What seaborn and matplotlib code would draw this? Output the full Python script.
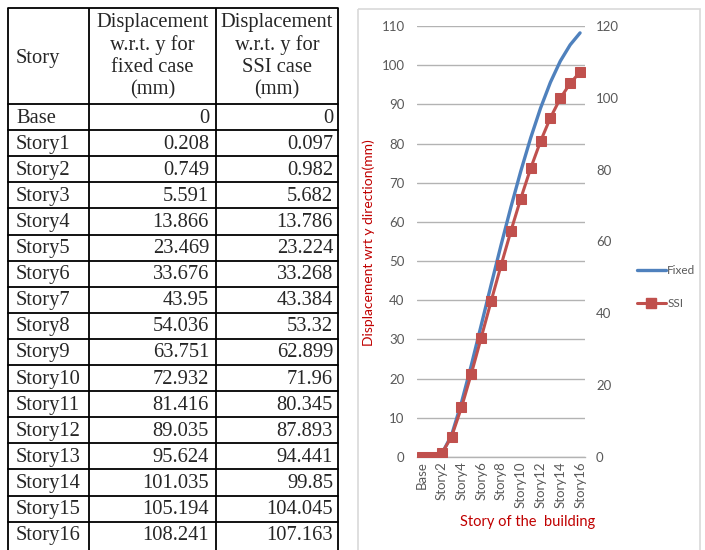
import matplotlib
matplotlib.use("Agg")
import matplotlib.pyplot as plt
import seaborn as sns
import pandas as pd
from matplotlib.lines import Line2D
from matplotlib.patches import Rectangle

# ---- data ----
stories = ["Base", "Story1", "Story2", "Story3", "Story4", "Story5", "Story6", "Story7",
           "Story8", "Story9", "Story10", "Story11", "Story12", "Story13", "Story14",
           "Story15", "Story16"]
fixed_disp = [0, 0.208, 0.749, 5.591, 13.866, 23.469, 33.676, 43.95, 54.036, 63.751,
              72.932, 81.416, 89.035, 95.624, 101.035, 105.194, 108.241]
ssi_disp = [0, 0.097, 0.982, 5.682, 13.786, 23.224, 33.268, 43.384, 53.32, 62.899,
            71.96, 80.345, 87.893, 94.441, 99.85, 104.045, 107.163]
fixed_txt = ["0", "0.208", "0.749", "5.591", "13.866", "23.469", "33.676", "43.95",
             "54.036", "63.751", "72.932", "81.416", "89.035", "95.624", "101.035",
             "105.194", "108.241"]
ssi_txt = ["0", "0.097", "0.982", "5.682", "13.786", "23.224", "33.268", "43.384",
           "53.32", "62.899", "71.96", "80.345", "87.893", "94.441", "99.85",
           "104.045", "107.163"]
header_story = "Story"
header_fixed = ["Displacement", "w.r.t. y for", "fixed case", "(mm)"]
header_ssi = ["Displacement", "w.r.t. y for", "SSI case", "(mm)"]
left_ticks = list(range(0, 111, 10))
right_ticks = list(range(0, 121, 20))

W, H = 705, 550
sns.set_theme(style="white")
plt.rcParams["font.family"] = ["Lato", "DejaVu Sans"]

fig = plt.figure(figsize=(W / 100, H / 100), dpi=100)

# ---- overlay axes in pixel coordinates for table and frame ----
bg = fig.add_axes([0, 0, 1, 1], zorder=0)
bg.set_xlim(0, W)
bg.set_ylim(H, 0)
bg.axis("off")

serif = ["Liberation Serif", "DejaVu Serif"]
col_x = [8, 89, 216, 338]
top = 8
hdr_bot = 104
row_h = 26.1
n = len(stories)
bottom = hdr_bot + n * row_h
lw = 1.3
for x in col_x:
    bg.plot([x, x], [top, H + 5], color="black", lw=lw, solid_capstyle="butt")
bg.plot([col_x[0], col_x[-1]], [top, top], color="black", lw=lw)
bg.plot([col_x[0], col_x[-1]], [hdr_bot, hdr_bot], color="black", lw=lw)
for i in range(1, n):
    y = hdr_bot + i * row_h
    bg.plot([col_x[0], col_x[-1]], [y, y], color="black", lw=lw)

fs = 14.8
bg.text(16, 58, header_story, fontsize=fs, family=serif, ha="left", va="center")
hdr_y = [22, 45, 67, 90]
for j, (a, b) in enumerate(zip(header_fixed, header_ssi)):
    bg.text((col_x[1] + col_x[2]) / 2, hdr_y[j], a, fontsize=fs, family=serif, ha="center", va="center")
    bg.text((col_x[2] + col_x[3]) / 2, hdr_y[j], b, fontsize=fs, family=serif, ha="center", va="center")
for i, s in enumerate(stories):
    yc = hdr_bot + (i + 0.5) * row_h + 1
    bg.text(16, yc, s, fontsize=fs, family=serif, ha="left", va="center")
    bg.text(col_x[2] - 7, yc, fixed_txt[i], fontsize=fs, family=serif, ha="right", va="center")
    bg.text(col_x[3] - 5, yc, ssi_txt[i], fontsize=fs, family=serif, ha="right", va="center")

# chart frame
bg.add_patch(Rectangle((358, 9), 342, 560, fill=False, edgecolor="#d9d9d9", lw=1.2))

# ---- chart ----
x0, x1 = 417, 585
y_top, y_bot = 26, 457
ax = fig.add_axes([x0 / W, 1 - y_bot / H, (x1 - x0) / W, (y_bot - y_top) / H], zorder=2)
ax.patch.set_alpha(0)
ax2 = ax.twinx()

df = pd.DataFrame({"story": stories, "pos": range(len(stories)),
                   "Fixed": fixed_disp, "SSI": ssi_disp})

blue = "#4f81bd"
red = "#c0504d"
sns.lineplot(data=df, x="pos", y="Fixed", ax=ax, color=blue, lw=2.4, legend=False)
sns.lineplot(data=df, x="pos", y="SSI", ax=ax2, color=red, lw=2.2, marker="s",
             markersize=6.5, markeredgecolor=red, markerfacecolor=red, legend=False)

ax.set_xlim(-0.5, len(stories) - 0.5)
ax.set_ylim(0, 110)
ax2.set_ylim(0, 120)
ax.set_yticks(left_ticks)
ax2.set_yticks(right_ticks)
ax.grid(axis="y", color="#b3b3b3", lw=1.0)
ax.grid(axis="x", visible=False)
ax2.grid(False)
for a in (ax, ax2):
    for sp in ("top", "left", "right"):
        a.spines[sp].set_visible(False)
    a.spines["bottom"].set_color("#b3b3b3")
    a.spines["bottom"].set_linewidth(1.0)
ax2.spines["bottom"].set_visible(False)

tick_col = "#595959"
ax.tick_params(axis="y", length=0, pad=9, labelsize=9.5, labelcolor=tick_col)
ax2.tick_params(axis="y", length=0, pad=8, labelsize=9.5, labelcolor=tick_col)
xt = list(range(0, len(stories), 2))
ax.set_xticks(xt)
ax.set_xticklabels([stories[i] for i in xt], rotation=90, fontsize=9.5, color=tick_col)
ax.tick_params(axis="x", length=0, pad=3)

ax.set_xlabel("Story of the  building", color="#c00000", fontsize=10.5)
ax.xaxis.set_label_coords((528 - x0) / (x1 - x0), -(515 - y_bot) / (y_bot - y_top))
ax.set_ylabel("Displacement wrt y direction(mm)", color="#c00000", fontsize=10)
ax.yaxis.set_label_coords(-(417 - 375) / (x1 - x0), (y_bot - 243) / (y_bot - y_top))
ax2.set_ylabel("")
ax2.set_xlabel("")

handles = [Line2D([], [], color=blue, lw=2.4),
           Line2D([], [], color=red, lw=2.2, marker="s", markersize=6.5)]
leg = fig.legend(handles, ["Fixed", "SSI"], loc="center left",
                 bbox_to_anchor=(626 / W, 1 - 287 / H), frameon=False,
                 fontsize=8.5, handlelength=2.5, handletextpad=0.1, labelspacing=1.9,
                 labelcolor=tick_col)

fig.savefig("out.png", dpi=100)
